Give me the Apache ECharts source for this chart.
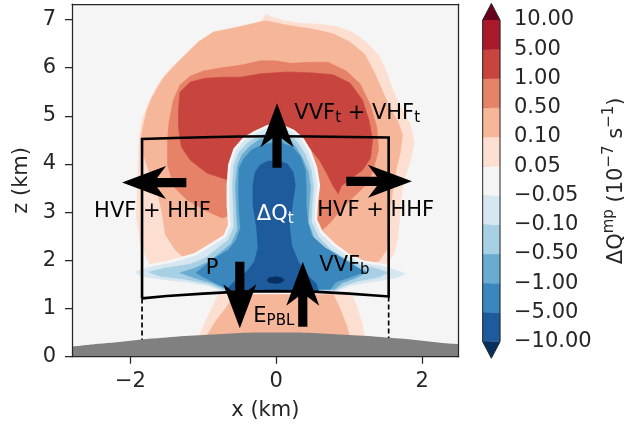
<!DOCTYPE html>
<html><head><meta charset="utf-8">
<script src="https://cdn.jsdelivr.net/npm/echarts@6/dist/echarts.min.js"></script>
<style>html,body{margin:0;padding:0;background:#fff}#c{width:624px;height:425px}</style>
</head><body><div id="c"></div>
<script>
// ---- axes / ticks ----
const xRange = [-2.8, 2.5];
const zRange = [0, 7.32];
const xTicks = [-2, 0, 2];
const zTicks = [0, 1, 2, 3, 4, 5, 6, 7];
// ---- colorbar ----
const cbLevels = ['−10.00','−5.00','−1.00','−0.50','−0.10','−0.05','0.05','0.10','0.50','1.00','5.00','10.00'];
const cbColors = ['#1d5b9d','#3a87bd','#69acd0','#a7d0e4','#d6e7f1','#f5f5f5','#fcdfd0','#f6b699','#e58267','#c8453f','#a8192b'];
const cbUnder = '#08305f', cbOver = '#67001f';
// ---- terrain (x km, z km) ----
const terrainX = [-2.8,-2.5,-2.25,-2.0,-1.75,-1.5,-1.25,-1.0,-0.75,-0.5,-0.25,0,0.25,0.5,0.75,1.0,1.25,1.5,1.75,2.0,2.25,2.5];
const terrainZ = [0.21,0.26,0.29,0.33,0.37,0.40,0.43,0.45,0.47,0.49,0.50,0.50,0.50,0.49,0.47,0.45,0.43,0.40,0.37,0.33,0.29,0.26];
// ---- filled contour regions (x km, z km) ----
const pinkCloud = [[-1.75,1.97],[-1.86,2.32],[-1.92,2.94],[-1.90,3.56],[-1.89,4.08],[-1.88,4.54],[-1.84,4.91],[-1.75,5.28],[-1.62,5.66],[-1.45,5.99],[-1.23,6.26],[-1.04,6.49],[-0.84,6.65],[-0.60,6.78],[-0.36,6.88],[-0.19,6.99],[-0.14,7.11],[-0.07,7.05],[0.11,6.97],[0.33,6.92],[0.58,6.90],[0.81,6.86],[1.04,6.74],[1.23,6.53],[1.40,6.26],[1.51,5.91],[1.60,5.53],[1.71,5.16],[1.84,4.81],[1.89,4.45],[1.84,4.08],[1.75,3.67],[1.71,3.25],[1.69,2.84],[1.66,2.42],[1.60,2.11],[1.49,1.88],[-1.73,1.88]];
const pinkStem = [[-1.10,0.24],[-1.04,0.49],[-0.96,0.76],[-0.88,1.01],[-0.81,1.24],[-0.74,1.40],[0.88,1.40],[1.05,1.24],[1.12,0.97],[1.18,0.66],[1.23,0.24]];
const salmonCloud = [[-1.23,2.01],[-1.38,2.21],[-1.52,2.53],[-1.56,2.94],[-1.62,3.36],[-1.73,3.77],[-1.82,4.19],[-1.85,4.60],[-1.78,5.08],[-1.70,5.39],[-1.55,5.78],[-1.32,6.16],[-1.07,6.53],[-0.86,6.74],[-0.59,6.82],[-0.36,6.90],[-0.14,6.97],[0.15,6.88],[0.40,6.82],[0.56,6.78],[0.78,6.70],[1.01,6.53],[1.21,6.28],[1.34,5.91],[1.45,5.53],[1.56,5.16],[1.67,4.87],[1.73,4.60],[1.70,4.25],[1.64,3.87],[1.60,3.50],[1.56,3.09],[1.55,2.59],[1.51,2.21],[1.40,1.97]];
const salmonStem = [[-0.99,0.24],[-0.93,0.49],[-0.82,0.76],[-0.69,1.01],[-0.59,1.24],[-0.52,1.40],[0.74,1.40],[0.80,1.24],[0.88,0.97],[0.96,0.66],[1.04,0.24]];
const midRed = [[-0.59,2.96],[-0.74,2.88],[-0.95,3.02],[-1.22,3.25],[-1.40,3.52],[-1.49,3.98],[-1.49,4.50],[-1.47,4.87],[-1.41,5.33],[-1.32,5.64],[-1.18,5.82],[-1.00,5.93],[-0.77,5.99],[-0.49,6.05],[-0.22,6.14],[-0.01,6.14],[0.19,6.09],[0.47,6.11],[0.71,6.11],[0.96,5.93],[1.15,5.66],[1.29,5.22],[1.38,4.75],[1.40,4.29],[1.32,3.83],[1.21,3.54],[1.04,3.29],[0.88,3.04],[0.75,2.80],[0.60,2.59],[0.33,2.63],[-0.36,2.73]];
const red = [[-0.59,3.81],[-0.67,3.67],[-0.95,3.81],[-1.18,4.08],[-1.30,4.35],[-1.34,4.75],[-1.34,5.12],[-1.32,5.49],[-1.18,5.70],[-0.97,5.78],[-0.74,5.80],[-0.49,5.80],[-0.22,5.87],[0.15,5.91],[0.51,5.89],[0.78,5.85],[1.01,5.68],[1.18,5.33],[1.27,4.91],[1.32,4.50],[1.29,4.12],[1.18,3.87],[1.00,3.67],[0.89,3.54],[0.85,3.38],[0.78,3.54],[0.69,3.81],[0.59,4.08],[0.45,4.35],[0.19,4.29],[-0.22,4.29]];
const blue1 = [[-1.93,1.76],[-1.73,1.86],[-1.45,1.94],[-1.11,2.09],[-0.88,2.30],[-0.69,2.48],[-0.62,2.73],[-0.64,3.15],[-0.64,3.56],[-0.62,3.98],[-0.55,4.29],[-0.43,4.50],[-0.27,4.64],[-0.11,4.75],[0.08,4.75],[0.22,4.66],[0.34,4.50],[0.44,4.25],[0.52,3.92],[0.56,3.56],[0.53,3.19],[0.52,2.84],[0.60,2.57],[0.78,2.30],[0.97,2.09],[1.18,1.94],[1.43,1.88],[1.63,1.80],[1.77,1.72],[1.63,1.63],[1.29,1.55],[1.01,1.47],[0.82,1.36],[-0.74,1.36],[-0.93,1.47],[-1.25,1.55],[-1.59,1.61],[-1.86,1.67]];
const blue2 = [[-1.75,1.76],[-1.52,1.84],[-1.18,1.92],[-0.97,2.05],[-0.82,2.23],[-0.66,2.42],[-0.58,2.69],[-0.59,3.15],[-0.60,3.56],[-0.58,3.98],[-0.51,4.25],[-0.40,4.43],[-0.25,4.58],[-0.10,4.66],[0.07,4.66],[0.21,4.58],[0.30,4.43],[0.40,4.19],[0.48,3.87],[0.51,3.52],[0.49,3.15],[0.48,2.80],[0.58,2.48],[0.74,2.23],[0.95,2.03],[1.15,1.90],[1.40,1.82],[1.53,1.74],[1.40,1.65],[1.12,1.57],[0.95,1.49],[0.81,1.38],[-0.71,1.38],[-0.93,1.51],[-1.25,1.61],[-1.59,1.67]];
const blue3 = [[-1.32,1.74],[-1.11,1.84],[-0.93,1.97],[-0.77,2.15],[-0.62,2.34],[-0.53,2.63],[-0.55,3.15],[-0.56,3.56],[-0.53,3.98],[-0.47,4.19],[-0.36,4.37],[-0.22,4.52],[-0.08,4.58],[0.07,4.58],[0.19,4.50],[0.27,4.35],[0.36,4.12],[0.44,3.83],[0.47,3.50],[0.45,3.15],[0.44,2.77],[0.52,2.46],[0.67,2.21],[0.88,2.01],[1.08,1.86],[1.26,1.76],[1.08,1.63],[0.90,1.53],[0.80,1.40],[-0.69,1.40],[-0.88,1.53],[-1.11,1.63]];
const blue4 = [[-1.10,1.74],[-0.97,1.90],[-0.84,2.05],[-0.66,2.21],[-0.55,2.42],[-0.49,2.67],[-0.51,3.04],[-0.52,3.50],[-0.51,3.92],[-0.44,4.12],[-0.34,4.29],[-0.21,4.39],[-0.07,4.43],[0.08,4.43],[0.22,4.35],[0.33,4.16],[0.40,3.87],[0.41,3.52],[0.41,3.15],[0.43,2.80],[0.49,2.50],[0.67,2.26],[0.90,2.05],[1.08,1.88],[1.21,1.76],[1.01,1.65],[0.82,1.55],[0.74,1.40],[-0.66,1.40],[-0.84,1.53],[-0.97,1.63]];
const blue5 = [[-0.60,1.36],[-0.66,1.43],[-0.55,1.59],[-0.41,1.76],[-0.30,1.97],[-0.25,2.26],[-0.27,2.67],[-0.32,3.15],[-0.32,3.56],[-0.29,3.83],[-0.22,3.98],[-0.11,4.06],[0.03,4.06],[0.15,4.00],[0.23,3.83],[0.26,3.56],[0.22,3.15],[0.18,2.73],[0.21,2.32],[0.30,1.97],[0.44,1.67],[0.55,1.51],[0.58,1.36]];
const blue6 = [[-0.13,1.59],[-0.10,1.64],[-0.01,1.66],[0.07,1.64],[0.11,1.59],[0.07,1.54],[-0.01,1.52],[-0.10,1.54]];
// ---- control volume ----
const controlBox = [[-1.84,1.21],[-1.84,4.52],[-1.4,4.54],[-1.0,4.555],[-0.5,4.57],[0,4.575],[0.5,4.57],[1.0,4.56],[1.54,4.55],[1.54,1.25],[1.0,1.31],[0.5,1.35],[0,1.36],[-0.5,1.35],[-1.0,1.31],[-1.5,1.26],[-1.84,1.21]];
const dashLeft = [[-1.84,1.21],[-1.84,0.35]];
const dashRight = [[1.54,1.25],[1.54,0.39]];
// ---- flux arrows: [x0, z0, x1(tip), z1(tip)] ----
const arrows = [[0.01,3.92,0.01,5.26],[-1.233,3.614,-2.114,3.614],[0.959,3.64,1.859,3.64],[-0.50,1.97,-0.50,0.59],[0.363,0.62,0.363,1.97]];
// ---- annotations ----
const annotations = [
  {t:'{m|VVF}{s|t}{m| + VHF}{s|t}', x:0.247, z:5.037, c:'#000'},
  {t:'{m|HVF + HHF}', x:-2.497, z:3.012, c:'#000'},
  {t:'{m|HVF + HHF}', x:0.562, z:3.027, c:'#000'},
  {t:'{m|ΔQ}{s|t}', x:-0.267, z:2.956, c:'#fff'},
  {t:'{m|P}', x:-0.968, z:1.834, c:'#000'},
  {t:'{m|VVF}{s|b}', x:0.589, z:1.886, c:'#000'},
  {t:'{m|E}{s|PBL}', x:-0.315, z:0.824, c:'#000'}
];

const contourLayers = [
  {pts: pinkCloud, fill: cbColors[6]},
  {pts: pinkStem, fill: cbColors[6]},
  {pts: salmonCloud, fill: cbColors[7]},
  {pts: salmonStem, fill: cbColors[7]},
  {pts: midRed, fill: cbColors[8]},
  {pts: red, fill: cbColors[9]},
  {pts: blue1, stroke: cbColors[5], lw: 6},
  {pts: blue1, fill: cbColors[4]},
  {pts: blue2, fill: cbColors[3]},
  {pts: blue3, fill: cbColors[2]},
  {pts: blue4, fill: cbColors[1]},
  {pts: blue5, fill: cbColors[0]},
  {pts: blue6, fill: cbUnder}
];

const FONT = 'DejaVu Sans';
const TXT = '#262626';
const minusFmt = v => (v < 0 ? '−' : '') + Math.abs(v);
const lineAx = {show:true, onZero:false, lineStyle:{color:TXT, width:1.25}};

const chart = echarts.init(document.getElementById('c'), null, {renderer:'canvas'});
chart.setOption({
  animation: false,
  backgroundColor: '#fff',
  textStyle: {fontFamily: FONT},
  grid: [
    {left:72, top:4, width:386.7, height:352.7, backgroundColor: cbColors[5], show:true, borderWidth:0, outerBoundsMode:'none'},
    {left:482.7, top:20, width:17.3, height:321.7, outerBoundsMode:'none'}
  ],
  xAxis: [
    {gridIndex:0, type:'value', min:xRange[0], max:xRange[1], position:'bottom', z:10,
     axisLine: lineAx,
     axisTick:{show:true, length:7, lineStyle:{color:TXT, width:1.25}, customValues:xTicks},
     axisLabel:{customValues:xTicks, formatter:minusFmt, margin:14, color:TXT, fontSize:21, fontFamily:FONT},
     splitLine:{show:false},
     name:'x (km)', nameLocation:'middle', nameGap:43, nameTextStyle:{color:TXT, fontSize:21, fontFamily:FONT}},
    {gridIndex:0, type:'value', min:xRange[0], max:xRange[1], position:'top', z:10,
     axisLine: lineAx, axisTick:{show:false}, axisLabel:{show:false}, splitLine:{show:false}},
    {gridIndex:1, type:'value', min:0, max:1, show:false}
  ],
  yAxis: [
    {gridIndex:0, type:'value', min:zRange[0], max:zRange[1], position:'left', z:10,
     axisLine: lineAx,
     axisTick:{show:true, length:7, lineStyle:{color:TXT, width:1.25}, customValues:zTicks},
     axisLabel:{customValues:zTicks, margin:16, color:TXT, fontSize:21, fontFamily:FONT},
     splitLine:{show:false},
     name:'z (km)', nameLocation:'middle', nameGap:39, nameRotate:90, nameTextStyle:{color:TXT, fontSize:21, fontFamily:FONT}},
    {gridIndex:0, type:'value', min:zRange[0], max:zRange[1], position:'right', z:10,
     axisLine: lineAx, axisTick:{show:false}, axisLabel:{show:false}, splitLine:{show:false}},
    {gridIndex:1, type:'value', min:0, max:11, interval:1, position:'right',
     axisLine:{show:false},
     axisTick:{show:true, length:7, lineStyle:{color:TXT, width:1}},
     axisLabel:{formatter: v => cbLevels[v], margin:14, color:TXT, fontSize:21, fontFamily:FONT},
     splitLine:{show:false},
     name:'ΔQ{sup|mp} (10{sup|−7} s{sup|−1})', nameLocation:'middle', nameGap:102, nameRotate:90,
     nameTextStyle:{color:TXT, fontSize:21, fontFamily:FONT, lineHeight:30,
       rich:{sup:{fontSize:15, lineHeight:16, verticalAlign:'top', color:TXT, fontFamily:FONT}}}}
  ],
  series: [
    {type:'custom', xAxisIndex:0, yAxisIndex:0, clip:true, silent:true,
     data: contourLayers.map((l,i)=>[i]),
     renderItem: function(params, api){
       const L = contourLayers[api.value(0)];
       const pts = L.pts.map(p => api.coord(p));
       return {type:'polygon', shape:{points:pts},
         style: L.fill ? {fill:L.fill, stroke:L.fill, lineWidth:0.6} : {fill:null, stroke:L.stroke, lineWidth:L.lw, lineJoin:'round'}};
     }},
    {type:'line', xAxisIndex:0, yAxisIndex:0, symbol:'none', smooth:0.3, silent:true,
     data: terrainX.map((x,i)=>[x, terrainZ[i]]),
     lineStyle:{width:0, color:'#808080'}, areaStyle:{color:'#808080', opacity:1}},
    {type:'line', xAxisIndex:0, yAxisIndex:0, symbol:'none', silent:true,
     data: controlBox, lineStyle:{color:'#000', width:2.6, join:'miter'}},
    {type:'line', xAxisIndex:0, yAxisIndex:0, symbol:'none', silent:true,
     data: dashLeft, lineStyle:{color:'#000', width:1.7, type:[5,3]}},
    {type:'line', xAxisIndex:0, yAxisIndex:0, symbol:'none', silent:true,
     data: dashRight, lineStyle:{color:'#000', width:1.7, type:[5,3]}},
    {type:'custom', xAxisIndex:0, yAxisIndex:0, clip:false, silent:true,
     data: arrows.map((a,i)=>[i]),
     renderItem: function(params, api){
       const a = arrows[api.value(0)];
       const p0 = api.coord([a[0],a[1]]), p1 = api.coord([a[2],a[3]]);
       let dx = p1[0]-p0[0], dy = p1[1]-p0[1];
       const len = Math.hypot(dx,dy); dx/=len; dy/=len;
       const nx = -dy, ny = dx;
       const hw = 4.6, HW = 16.5, L = 44, O = 9;
       const P = (t,s) => [p1[0]-dx*t+nx*s, p1[1]-dy*t+ny*s];
       const pts = [[p0[0]+nx*hw, p0[1]+ny*hw], P(L-O,hw), P(L,HW), [p1[0],p1[1]], P(L,-HW), P(L-O,-hw), [p0[0]-nx*hw, p0[1]-ny*hw]];
       return {type:'polygon', shape:{points:pts}, style:{fill:'#000'}};
     }},
    {type:'custom', xAxisIndex:0, yAxisIndex:0, clip:false, silent:true,
     data: annotations.map((a,i)=>[i]),
     renderItem: function(params, api){
       const a = annotations[api.value(0)];
       const p = api.coord([a.x, a.z]);
       return {type:'text', x:p[0], y:p[1], style:{text:a.t, align:'left', verticalAlign:'middle',
         rich:{m:{fontSize:21, lineHeight:24, fontFamily:FONT, fill:a.c},
               s:{fontSize:15, lineHeight:12, verticalAlign:'bottom', fontFamily:FONT, fill:a.c}}}};
     }},
    {type:'custom', xAxisIndex:2, yAxisIndex:2, clip:false, silent:true,
     data: cbColors.map((c,i)=>[i]),
     renderItem: function(params, api){
       const i = api.value(0);
       const p0 = api.coord([0,i]), p1 = api.coord([1,i+1]);
       return {type:'rect', shape:{x:p0[0], y:p1[1], width:p1[0]-p0[0], height:p0[1]-p1[1]},
         style:{fill:cbColors[i], stroke:cbColors[i], lineWidth:0.5}};
     }},
    {type:'custom', xAxisIndex:2, yAxisIndex:2, clip:false, silent:true,
     data: [[0],[1]],
     renderItem: function(params, api){
       const k = api.value(0);
       const pts = k === 0 ? [[0,0],[1,0],[0.5,-0.565]] : [[0,11],[1,11],[0.5,11.565]];
       return {type:'polygon', shape:{points:pts.map(p=>api.coord(p))}, style:{fill: k===0 ? cbUnder : cbOver}};
     }},
    {type:'custom', xAxisIndex:2, yAxisIndex:2, clip:false, silent:true,
     data: [[0]],
     renderItem: function(params, api){
       const pts = [[0,0],[0.5,-0.565],[1,0],[1,11],[0.5,11.565],[0,11]].map(p=>api.coord(p));
       return {type:'polygon', shape:{points:pts}, style:{fill:null, stroke:TXT, lineWidth:1}};
     }}
  ]
});
</script>
</body></html>
